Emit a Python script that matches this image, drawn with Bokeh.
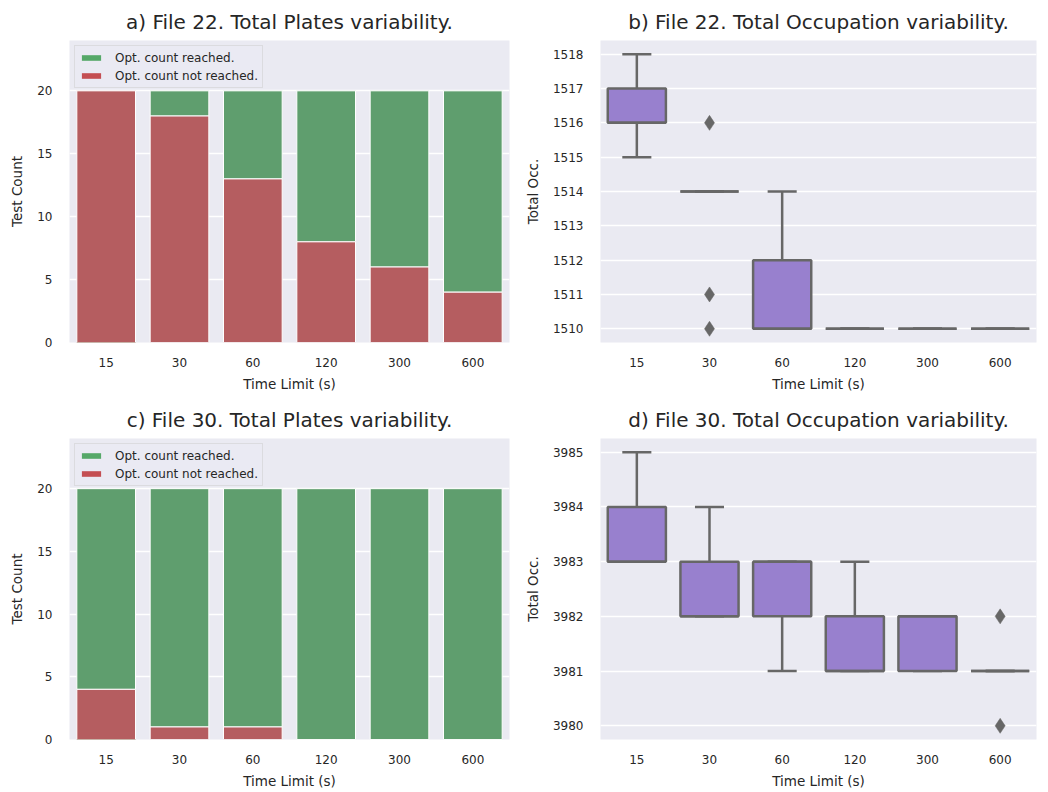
from bokeh.plotting import figure
from bokeh.models import (FactorRange, Range1d, Legend, LegendItem,
                          ColumnDataSource, FixedTicker)
from bokeh.layouts import column, row
from bokeh.embed import file_html
from bokeh.resources import INLINE

# Time limits (s) used for every run
times = ["15", "30", "60", "120", "300", "600"]

# Plate counts: 20 runs per time limit
runs_total = [20, 20, 20, 20, 20, 20]
not_reached_22 = [20, 18, 13, 8, 6, 4]
not_reached_30 = [4, 1, 1, 0, 0, 0]

# Total occupation, file 22 (box statistics per time limit)
occ22_low = [1515, 1514, 1510, 1510, 1510, 1510]
occ22_q1 = [1516, 1514, 1510, 1510, 1510, 1510]
occ22_med = [1516, 1514, 1510, 1510, 1510, 1510]
occ22_q3 = [1517, 1514, 1512, 1510, 1510, 1510]
occ22_high = [1518, 1514, 1514, 1510, 1510, 1510]
occ22_out_t = ["30", "30", "30"]
occ22_out_v = [1516, 1511, 1510]

# Total occupation, file 30
occ30_low = [3983, 3982, 3981, 3981, 3981, 3981]
occ30_q1 = [3983, 3982, 3982, 3981, 3981, 3981]
occ30_med = [3983, 3982, 3983, 3981, 3982, 3981]
occ30_q3 = [3984, 3983, 3983, 3982, 3982, 3981]
occ30_high = [3985, 3984, 3983, 3983, 3982, 3981]
occ30_out_t = ["600", "600"]
occ30_out_v = [3982, 3980]

FONT = "DejaVu Sans"
INK = "#262626"
BG = "#EAEAF2"
GREEN = "#5F9E6E"
RED = "#B55D60"
GREEN_KEY = "#55A868"
RED_KEY = "#C44E52"
BOX_FILL = "#9880CE"
BOX_EDGE = "#676767"


def base_figure(title, y_range, ticks, ylabel, fw, fh, left, right, bottom):
    p = figure(x_range=FactorRange(*times, range_padding=0), y_range=y_range,
               frame_width=fw, frame_height=fh,
               min_border_left=left, min_border_right=right,
               min_border_top=40, min_border_bottom=bottom,
               output_backend="svg", toolbar_location=None, title=title)
    p.background_fill_color = BG
    p.border_fill_color = "white"
    p.outline_line_color = None
    p.title.text_font = FONT
    p.title.text_font_size = "20px"
    p.title.text_font_style = "normal"
    p.title.text_color = INK
    p.title.align = "center"
    p.title.standoff = 14
    p.xgrid.grid_line_color = None
    p.ygrid.grid_line_color = "white"
    p.ygrid.grid_line_width = 1.4
    p.yaxis.ticker = FixedTicker(ticks=ticks)
    for ax in (p.xaxis[0], p.yaxis[0]):
        ax.axis_line_color = None
        ax.major_tick_line_color = None
        ax.minor_tick_line_color = None
        ax.major_tick_out = 0
        ax.major_tick_in = 0
        ax.minor_tick_out = 0
        ax.minor_tick_in = 0
        ax.major_label_text_font = FONT
        ax.major_label_text_font_size = "12px"
        ax.major_label_text_color = INK
        ax.axis_label_text_font = FONT
        ax.axis_label_text_font_size = "13.5px"
        ax.axis_label_text_font_style = "normal"
        ax.axis_label_text_color = INK
    p.xaxis.axis_label = "Time Limit (s)"
    p.xaxis.major_label_standoff = 15
    p.xaxis.axis_label_standoff = 6
    p.yaxis.axis_label = ylabel
    p.yaxis.major_label_standoff = 17
    p.yaxis.axis_label_standoff = 9
    return p


def plates_panel(title, not_reached, fh, bottom):
    p = base_figure(title, Range1d(0, 24), [0, 5, 10, 15, 20], "Test Count",
                    440, fh, 69, 11, bottom)
    src = ColumnDataSource(dict(t=times, total=runs_total, nr=not_reached))
    p.vbar(x="t", bottom="nr", top="total", width=0.8, source=src,
           fill_color=GREEN, line_color="white", line_width=1)
    p.vbar(x="t", bottom=0, top="nr", width=0.8, source=src,
           fill_color=RED, line_color="white", line_width=1)
    # legend swatches use the full-saturation palette colours; the swatch
    # glyphs sit below the visible range so only the legend shows them
    key_g = p.vbar(x=["15"], bottom=[-10], top=[-5], width=0.8,
                   fill_color=GREEN_KEY, line_color=None)
    key_r = p.vbar(x=["15"], bottom=[-10], top=[-5], width=0.8,
                   fill_color=RED_KEY, line_color=None)
    legend = Legend(items=[LegendItem(label="Opt. count reached.", renderers=[key_g]),
                           LegendItem(label="Opt. count not reached.", renderers=[key_r])],
                    location="top_left")
    legend.label_text_font = FONT
    legend.label_text_font_size = "12px"
    legend.label_text_color = INK
    legend.glyph_width = 24
    legend.glyph_height = 7
    legend.label_standoff = 12
    legend.label_height = 15
    legend.spacing = 3
    legend.padding = 4
    legend.margin = 5
    legend.background_fill_color = BG
    legend.background_fill_alpha = 0.8
    legend.border_line_color = "#CCCCCC"
    legend.border_line_width = 1
    p.add_layout(legend)
    return p


def occupation_panel(title, yr, ticks, low, q1, med, q3, high, out_t, out_v,
                     fh, bottom):
    p = base_figure(title, yr, ticks, "Total Occ.", 436, fh, 80, 12, bottom)
    src = ColumnDataSource(dict(t=times, low=low, q1=q1, med=med, q3=q3, high=high))
    # whiskers
    p.segment(x0="t", y0="q3", x1="t", y1="high", source=src,
              line_color=BOX_EDGE, line_width=2.5)
    p.segment(x0="t", y0="low", x1="t", y1="q1", source=src,
              line_color=BOX_EDGE, line_width=2.5)
    # whisker caps (zero-height bars draw as a single line)
    p.vbar(x="t", bottom="high", top="high", width=0.4, source=src,
           fill_color=None, line_color=BOX_EDGE, line_width=2.5)
    p.vbar(x="t", bottom="low", top="low", width=0.4, source=src,
           fill_color=None, line_color=BOX_EDGE, line_width=2.5)
    # boxes and medians
    p.vbar(x="t", bottom="q1", top="q3", width=0.8, source=src,
           fill_color=BOX_FILL, line_color=BOX_EDGE, line_width=2.5)
    p.vbar(x="t", bottom="med", top="med", width=0.8, source=src,
           fill_color=None, line_color=BOX_EDGE, line_width=2.5)
    # outliers
    p.scatter(x=out_t, y=out_v, marker="diamond", size=15,
              fill_color=BOX_EDGE, line_color=BOX_EDGE, line_width=0.5)
    return p


pa = plates_panel("a) File 22. Total Plates variability.", not_reached_22, 302, 56)
pb = occupation_panel("b) File 22. Total Occupation variability.",
                      Range1d(1509.6, 1518.4), list(range(1510, 1519)),
                      occ22_low, occ22_q1, occ22_med, occ22_q3, occ22_high,
                      occ22_out_t, occ22_out_v, 302, 56)
pc = plates_panel("c) File 30. Total Plates variability.", not_reached_30, 301, 53)
pd = occupation_panel("d) File 30. Total Occupation variability.",
                      Range1d(3979.75, 3985.25), list(range(3980, 3986)),
                      occ30_low, occ30_q1, occ30_med, occ30_q3, occ30_high,
                      occ30_out_t, occ30_out_v, 301, 53)

layout = column(row(pa, pb), row(pc, pd))

with open("out.html", "w") as f:
    f.write(file_html(layout, INLINE))
